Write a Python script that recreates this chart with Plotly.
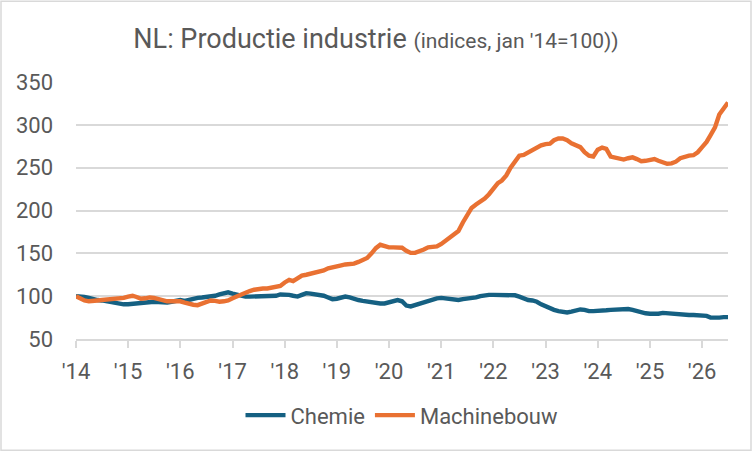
import plotly.graph_objects as go
import pandas as pd

dates = pd.date_range("2014-01-01", periods=151, freq="MS")

chemie = [
    100, 100, 99, 98, 96.5, 95.5, 95, 94, 93.5, 93, 92, 90.5,
    90.5, 91, 91.5, 92.5, 93, 93.5, 93.5, 93, 92.5, 92.5, 93.5, 95,
    95.5, 94.5, 96, 97, 98, 98.5, 99, 99.5, 100.5, 102, 103.5, 104.5,
    103, 101.5, 100.5, 99.5, 99.5, 99.5, 99.5, 99.5, 99.5, 99.5, 100.5, 102,
    102, 101.5, 100.5, 99.5, 101.5, 103.5, 103, 102.5, 101.5, 100.5, 98.5, 96.5,
    97, 98.5, 99.5, 98.5, 96.5, 95.5, 94.5, 93.5, 92.5, 92, 91.5, 91.5,
    93, 95, 95.5, 94, 89, 88, 89.5, 91, 93, 95, 96.5, 97.5,
    98, 97.5, 96.5, 95.5, 95.5, 96.5, 97, 97.5, 98.5, 100, 101, 101.5,
    101.5, 101.5, 101.5, 101.5, 101.5, 101, 99.5, 97, 95.5, 95, 93.5, 90.5,
    88, 86, 84, 82.5, 81.5, 81, 82, 83.5, 84.5, 84, 82.5, 82.5,
    82.5, 83, 83.5, 84, 84.5, 84.5, 85.5, 85, 84, 82.5, 80.5, 80,
    79.5, 79, 79.5, 80.5, 80, 79, 78.5, 78, 78, 78, 78, 78,
    77.5, 77, 75, 74.5, 75, 75.5, 75.5,
]

machinebouw = [
    100, 97, 95, 94, 94, 95, 95.5, 96, 96, 96.5, 97, 98,
    99.5, 100.5, 99, 97, 97.5, 98.5, 98, 96.5, 95, 94, 94, 94,
    94, 92.5, 91, 90, 89.5, 91, 93, 95, 94.5, 93.5, 94, 95,
    97.5, 100, 102.5, 104.5, 106, 107.5, 108.5, 109, 109, 110, 110.5, 112,
    116, 119, 117.5, 121, 124, 125, 126, 127, 128, 130, 132.5, 134,
    135, 136, 137, 137.5, 138, 140, 142, 144.5, 150, 156, 160, 158.5,
    157, 157, 157, 156.5, 153, 150.5, 150.5, 152, 154.5, 157, 158, 158,
    161, 164.5, 168, 172, 176, 186, 195, 203, 207, 210, 214, 219,
    226, 232, 235, 241, 250, 258, 264, 265, 268, 271, 274, 276,
    277.5, 278, 282, 284, 284, 282, 278.5, 276, 274, 268, 264, 263,
    271, 273.5, 272, 263, 261.5, 260, 259.5, 261, 262, 260, 257.5, 258,
    259, 260, 258, 256, 254.5, 255, 257, 261, 263, 264, 264.5, 268,
    274, 280, 288, 297, 312, 320, 326,
]

assert len(chemie) == len(dates) == len(machinebouw)

FONT = "Roboto, sans-serif"
GREY = "#595959"

fig = go.Figure()
fig.add_trace(go.Scatter(x=dates, y=chemie, name="Chemie", mode="lines",
                         line=dict(color="#156082", width=4.4), hoverinfo="skip"))
fig.add_trace(go.Scatter(x=dates, y=machinebouw, name="Machinebouw", mode="lines",
                         line=dict(color="#E97132", width=4.4), hoverinfo="skip"))

PT, PB = 82, 339.5
fig.update_layout(
    width=752, height=452,
    margin=dict(l=76, r=24, t=PT, b=452 - PB),
    paper_bgcolor="white", plot_bgcolor="white",
    font=dict(family=FONT, color=GREY, size=21),
    title=dict(
        text="NL: Productie industrie <span style='font-size:21px'>(indices, jan '14=100))</span>",
        x=0.5, xanchor="center", y=1 - 39 / 452, yanchor="middle",
        font=dict(size=27, color=GREY, family=FONT),
    ),
    showlegend=True,
    legend=dict(orientation="h", x=0.5, xanchor="center",
                y=(PB - 416) / (PB - PT), yanchor="middle",
                font=dict(size=22, color=GREY), itemwidth=40, traceorder="normal"),
    xaxis=dict(
        type="date",
        range=[dates[0], dates[-1]],
        tick0="2014-01-01", dtick="M12", tickformat="'%y",
        showgrid=False, showline=True, linecolor="#d9d9d9", linewidth=1.5,
        ticks="outside", ticklen=7, tickcolor="#d9d9d9", tickwidth=1.5,
        tickfont=dict(size=22, color=GREY), ticklabelstandoff=5,
        zeroline=False,
    ),
    yaxis=dict(
        range=[50, 350], dtick=50, tick0=50,
        showgrid=True, gridcolor="#d9d9d9", gridwidth=1.5,
        showline=False, zeroline=False, ticks="",
        tickfont=dict(size=22, color=GREY), ticklabelstandoff=22,
    ),
)

H = PB - PT
fig.add_shape(type="rect", xref="paper", yref="paper",
              x0=(1 - 76) / 652, x1=(751 - 76) / 652,
              y0=(PB - 451) / H, y1=(PB - 1) / H,
              line=dict(color="#d9d9d9", width=1.5), fillcolor="rgba(0,0,0,0)",
              layer="below")

fig.write_html("out.html", config={"displayModeBar": False},
               post_script="document.body.style.margin='0';document.body.style.overflow='hidden';")
